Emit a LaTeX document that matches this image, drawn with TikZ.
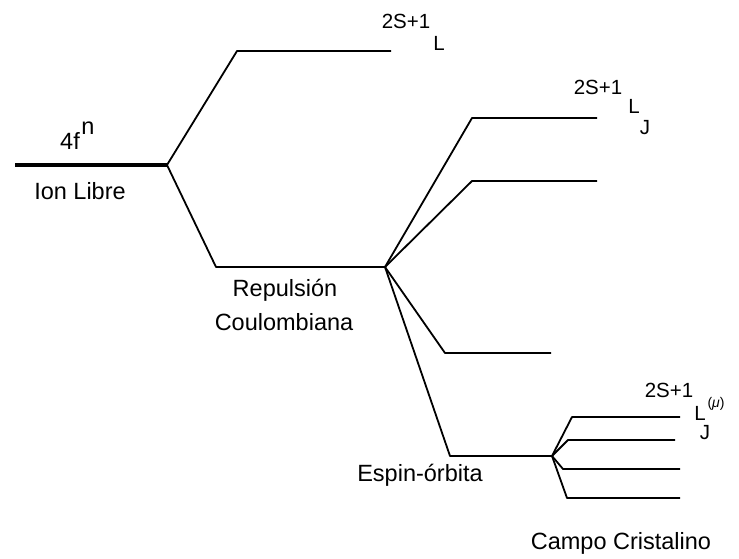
\documentclass[tikz,border=0pt]{standalone}
\usepackage{fontspec}
\setmainfont{Liberation Sans}
\begin{document}
\begin{tikzpicture}[x=1pt,y=-1pt,
  level/.style={line width=1.8pt,line join=round},
  freeion/.style={line width=4pt},
  lbl/.style={inner sep=0pt,font=\fontsize{23.5}{26}\selectfont},
  term/.style={inner sep=0pt,font=\fontsize{20.5}{22}\selectfont}]
\useasboundingbox (0,0) rectangle (739,559);

% free ion level
\coordinate (fiL) at (15,165);
\coordinate (fi) at (167,165);
\draw[freeion] (fiL) -- (fi);

% Coulomb repulsion: two terms
\coordinate (cA1) at (237,51);  \coordinate (cA2) at (391,51);
\coordinate (cB1) at (216,267); \coordinate (cB) at (385,267);
\draw[level] (fi) -- (cA1) -- (cA2);
\draw[level] (fi) -- (cB1) -- (cB);

% spin-orbit splitting
\coordinate (sA1) at (472,118); \coordinate (sA2) at (597,118);
\coordinate (sB1) at (472,181); \coordinate (sB2) at (597,181);
\coordinate (sC1) at (445,353); \coordinate (sC2) at (551,353);
\coordinate (sD1) at (450,456); \coordinate (sD) at (552,456);
\draw[level] (cB) -- (sA1) -- (sA2);
\draw[level] (cB) -- (sB1) -- (sB2);
\draw[level] (cB) -- (sC1) -- (sC2);
\draw[level] (cB) -- (sD1) -- (sD);

% crystal field splitting
\coordinate (kA1) at (572,417); \coordinate (kA2) at (680,417);
\coordinate (kB1) at (568,440); \coordinate (kB2) at (675,440);
\coordinate (kC1) at (563,469); \coordinate (kC2) at (680,469);
\coordinate (kD1) at (567,498); \coordinate (kD2) at (680,498);
\draw[level] (sD) -- (kA1) -- (kA2);
\draw[level] (sD) -- (kB1) -- (kB2);
\draw[level] (sD) -- (kC1) -- (kC2);
\draw[level] (sD) -- (kD1) -- (kD2);

% labels
\node[lbl] (t4f) at (70,141) {4f};
\node[lbl] (tn) at (88,128) {n};
\node[lbl] (tion) at (80,191) {Ion Libre};
\node[lbl] (trep) at (285,290) {Repulsión};
\node[lbl] (tcou) at (284,322) {Coulombiana};
\node[lbl] (tesp) at (420,475) {Espin-órbita};
\node[lbl] (tcam) at (621,543) {Campo Cristalino};

% term symbols
\node[term] (s1) at (406,21) {2S+1};
\node[term] (s1L) at (439,43) {L};
\node[term] (s2) at (598,87) {2S+1};
\node[term] (s2L) at (634,106) {L};
\node[term] (s2J) at (645,128) {J};
\node[term] (s3) at (669,390) {2S+1};
\node[term] (s3L) at (700,413) {L};
\node[term,font=\fontsize{14}{16}\selectfont] (s3m) at (716,404) {(\textit{μ})};
\node[term] (s3J) at (705,433) {J};
\end{tikzpicture}
\end{document}
